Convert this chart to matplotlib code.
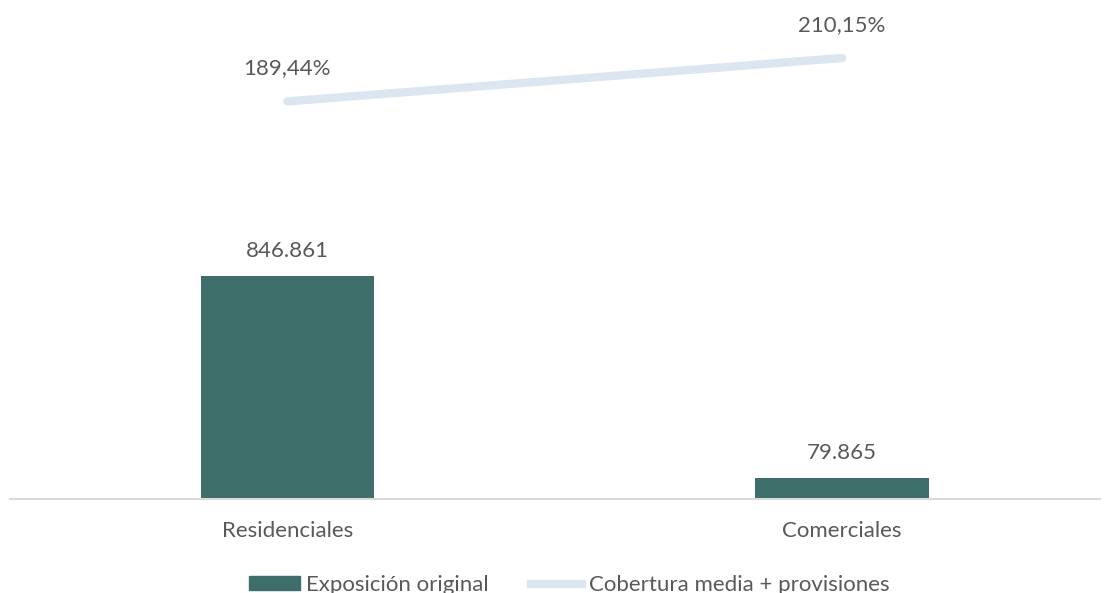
import matplotlib.pyplot as plt
from matplotlib.patches import Patch
from matplotlib.lines import Line2D

plt.rcParams['font.family'] = ['Lato', 'DejaVu Sans']

# data
categorias = ['Residenciales', 'Comerciales']
exposicion = [846861, 79865]
cobertura = [189.44, 210.15]
exposicion_txt = ['846.861', '79.865']
cobertura_txt = ['189,44%', '210,15%']

bar_color = '#3d6e69'
line_color = '#dce6f0'
txt_color = '#595959'
fs = 16

fig = plt.figure(figsize=(11.05, 5.93), dpi=100)
ax = fig.add_axes([10 / 1105, 94 / 593, 1090 / 1105, 489 / 593])
ax2 = ax.twinx()

x = range(len(categorias))
ax.bar(x, exposicion, width=0.313, color=bar_color, zorder=2)
ax.set_xlim(-0.5, 1.465)
ax.set_ylim(0, 1857000)
for xi, v, t in zip(x, exposicion, exposicion_txt):
    ax.annotate(t, (xi, v), xytext=(0, 10.5), textcoords='offset points',
                ha='center', va='bottom', fontsize=fs, color=txt_color)

ax2.plot(list(x), cobertura, color=line_color, lw=6, solid_capstyle='round')
ax2.set_ylim(0, 233)
for xi, v, t in zip(x, cobertura, cobertura_txt):
    ax2.annotate(t, (xi, v), xytext=(0, 16.5), textcoords='offset points',
                 ha='center', va='bottom', fontsize=fs, color=txt_color)

for a in (ax, ax2):
    for s in ['top', 'right', 'left']:
        a.spines[s].set_visible(False)
    a.set_yticks([])
ax2.spines['bottom'].set_visible(False)
ax.spines['bottom'].set_color('#d9d9d9')
ax.spines['bottom'].set_linewidth(1.5)

ax.set_xticks(list(x))
ax.set_xticklabels(categorias, fontsize=fs, color=txt_color)
ax.tick_params(axis='x', length=0, pad=16)

handles = [Patch(color=bar_color), Line2D([0], [0], color=line_color, lw=6)]
fig.legend(handles, ['Exposición original', 'Cobertura media + provisiones'],
           loc='center', bbox_to_anchor=(0.515, 8 / 593), ncol=2, frameon=False,
           fontsize=fs, labelcolor=txt_color, handlelength=2.3, handleheight=0.55,
           columnspacing=1.9, handletextpad=0.3)

fig.savefig('out.png', dpi=100)
